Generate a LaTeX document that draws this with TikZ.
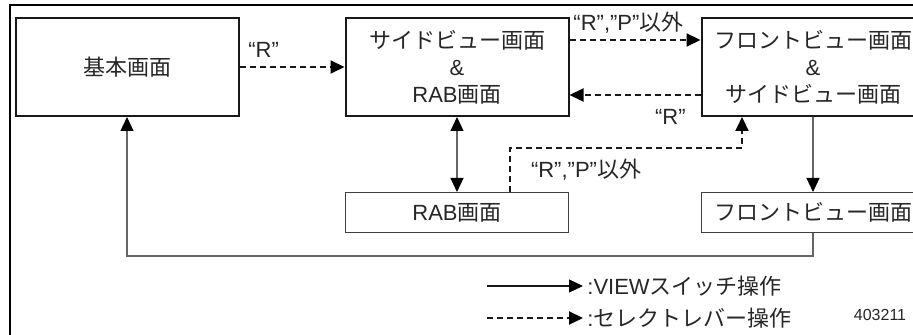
\documentclass[tikz,border=0pt]{standalone}
\usepackage{fontspec}
\setmainfont{Liberation Sans}
\newfontfamily\jpfont{Noto Sans CJK JP}
\newcommand{\ja}[1]{{\jpfont #1}}
\usepackage{tikz}
\usetikzlibrary{
  arrows.meta,
  positioning
}

\tikzset{
  tip/.tip={Triangle[length=7pt,width=6.5pt,black]},
  mainbox/.style={draw=black!90, line width=1pt, minimum width=111.5pt, minimum height=49pt,
    inner sep=0pt, align=center, text=black!85, font=\fontsize{11}{13.5}\selectfont},
  subbox/.style={draw=black!75, line width=0.5pt, minimum width=111.5pt, minimum height=20pt,
    inner sep=0pt, align=center, text=black!85, font=\fontsize{11}{13.5}\selectfont},
  lbl/.style={inner sep=2pt, text=black!85, font=\fontsize{11}{13.5}\selectfont},
  selarrow/.style={-tip, line width=1pt, black!90, dash pattern=on 3pt off 2pt},
  viewarrow/.style={-tip, line width=0.6pt, black!60}
}

\begin{document}
\begin{tikzpicture}[x=0.5pt, y=-0.5pt]
\clip (0,0) rectangle (913,335);
\draw[line width=1.25pt] (10,335) -- (10,5) -- (913,5);

\node[mainbox] (base) at (127,67) {\ja{基本画面}};
\node[mainbox,right=52.5pt of base] (side) {\ja{サイドビュー画面}\\\&\\RAB\ja{画面}};
\node[mainbox,right=65.5pt of side] (front) {\ja{フロントビュー画面}\\\&\\\ja{サイドビュー画面}};
\node[subbox,below=37.5pt of side] (rab) {RAB\ja{画面}};
\node[subbox,below=37.5pt of front] (frontsub) {\ja{フロントビュー画面}};

% select lever
\draw[selarrow] (base) -- node[lbl,pos=0.23,above=2pt] {“R”} (side);
\draw[selarrow] ([yshift=13.5pt]side.east) -- node[lbl,pos=0.45,above=1pt] {“R”,”P”\ja{以外}} ([yshift=13.5pt]front.west);
\draw[selarrow] ([yshift=-14pt]front.west) -- node[lbl,pos=0.23,below=4.5pt] {“R”} ([yshift=-14pt]side.east);
\coordinate (selA) at (510,148);
\coordinate (selB) at (742,148);
\draw[selarrow] (rab.north -| selA) -- (selA) -- (selB) -- (front.south -| selB);
\node[lbl] (selLbl) at (586,170) {“R”,”P”\ja{以外}};

% view switch
\draw[viewarrow,tip-tip] (side) -- (rab);
\draw[viewarrow] (front) -- (frontsub);
\coordinate (loop) at (127,256);
\draw[viewarrow] (frontsub.south) |- (loop) -- (base.south);

% legend
\coordinate (legA) at (487,286);
\coordinate (legB) at (487,318);
\node[lbl,anchor=west] (legView) at (583,286) {:VIEW\ja{スイッチ操作}};
\node[lbl,anchor=west] (legSel) at (583,318) {:\ja{セレクトレバー操作}};
\draw[viewarrow,black!90] (legA) -- (legView.west);
\draw[selarrow] (legB) -- (legSel.west);
\node[text=black!85,font=\fontsize{8}{9}\selectfont] (code) at (880,315) {403211};
\end{tikzpicture}
\end{document}
